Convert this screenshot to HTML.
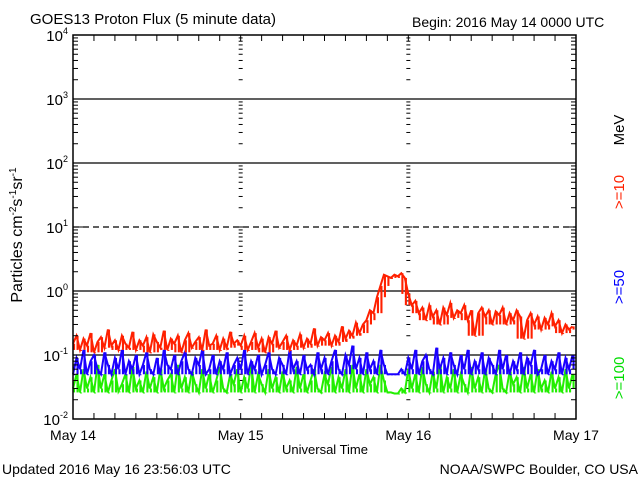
<!DOCTYPE html>
<html><head><meta charset="utf-8"><style>
html,body{margin:0;padding:0;background:#fff;}
svg{display:block;font-family:"Liberation Sans",sans-serif;}
</style></head><body>
<svg id="chart" width="640" height="480" viewBox="0 0 640 480">
<rect x="0" y="0" width="640" height="480" fill="#fff"/>
<text x="30" y="24" font-size="15">GOES13 Proton Flux (5 minute data)</text>
<text x="412" y="27" font-size="14">Begin: 2016 May 14 0000 UTC</text>
<text transform="translate(22,235) rotate(-90)" text-anchor="middle" font-size="16">Particles cm<tspan font-size="10" dy="-6">-2</tspan><tspan dy="6">s</tspan><tspan font-size="10" dy="-6">-1</tspan><tspan dy="6">sr</tspan><tspan font-size="10" dy="-6">-1</tspan></text>
<text transform="translate(624,130) rotate(-90)" text-anchor="middle" font-size="15">MeV</text>
<text transform="translate(624,192) rotate(-90)" text-anchor="middle" font-size="15" fill="#ff2000">&gt;=10</text>
<text transform="translate(624,287) rotate(-90)" text-anchor="middle" font-size="15" fill="#0000ff">&gt;=50</text>
<text transform="translate(624,378) rotate(-90)" text-anchor="middle" font-size="15" fill="#00dd00">&gt;=100</text>
<text x="325" y="454" text-anchor="middle" font-size="13">Universal Time</text>
<text x="2" y="474" font-size="14">Updated 2016 May 16 23:56:03 UTC</text>
<text x="638" y="474" text-anchor="end" font-size="14">NOAA/SWPC Boulder, CO USA</text>
<g id="grid"></g>
<g id="series"></g>
<g id="axes"></g>
</svg>
<script>
const dayLabels = ["May 14","May 15","May 16","May 17"];
const decadeExps = [-2,-1,0,1,2,3,4];
const red = [0.15,0.2,0.12,0.18,0.14,0.22,0.11,0.16,0.19,0.13,0.25,0.14,0.17,0.12,0.2,0.15,0.13,0.23,0.12,0.17,0.14,0.19,0.11,0.21,
0.16,0.13,0.24,0.12,0.18,0.15,0.2,0.11,0.17,0.22,0.13,0.16,0.19,0.12,0.25,0.14,0.15,0.2,0.12,0.18,0.13,0.23,0.15,0.17,
0.14,0.2,0.12,0.16,0.22,0.13,0.18,0.11,0.19,0.15,0.24,0.13,0.16,0.2,0.12,0.17,0.14,0.21,0.13,0.18,0.15,0.26,0.14,0.19,
0.17,0.22,0.14,0.2,0.16,0.28,0.18,0.24,0.2,0.32,0.22,0.3,
0.35,0.5,0.45,0.8,1.2,1.8,1.7,1.6,1.8,1.7,1.9,1.6,
0.9,0.6,0.7,0.45,0.55,0.35,0.6,0.4,0.5,0.3,0.55,0.42,0.65,0.38,0.5,0.45,0.6,0.35,0.5,0.2,0.45,0.55,0.4,0.5,0.3,0.48,0.42,0.55,0.3,0.45,0.35,0.5,0.4,0.18,0.35,0.45,0.3,0.4,0.25,0.38,0.3,0.45,0.28,0.35,0.22,0.3,0.25,0.28];
const blue = [0.05,0.09,0.06,0.12,0.05,0.08,0.1,0.06,0.05,0.11,0.07,0.05,0.09,0.06,0.12,0.05,0.08,0.06,0.1,0.05,0.07,0.11,0.06,0.05,
0.09,0.05,0.12,0.07,0.06,0.1,0.05,0.08,0.11,0.06,0.05,0.09,0.07,0.12,0.05,0.06,0.1,0.05,0.08,0.06,0.11,0.05,0.07,0.09,
0.06,0.12,0.05,0.08,0.06,0.1,0.05,0.07,0.11,0.06,0.05,0.09,0.07,0.05,0.12,0.06,0.08,0.05,0.1,0.06,0.07,0.05,0.11,0.06,
0.09,0.05,0.08,0.12,0.06,0.05,0.1,0.07,0.14,0.06,0.09,0.05,0.11,0.06,0.08,0.05,0.12,0.07,0.05,0.05,0.05,0.05,0.06,0.05,
0.09,0.06,0.12,0.05,0.08,0.1,0.06,0.05,0.13,0.06,0.09,0.05,0.11,0.07,0.05,0.1,0.06,0.12,0.05,0.08,0.06,0.11,0.05,0.09,
0.07,0.05,0.12,0.06,0.1,0.05,0.08,0.06,0.11,0.05,0.09,0.07,0.12,0.05,0.06,0.1,0.05,0.08,0.06,0.11,0.05,0.09,0.06,0.1];
const green = [0.03,0.05,0.026,0.06,0.03,0.045,0.026,0.07,0.03,0.05,0.026,0.04,0.06,0.027,0.035,0.05,0.026,0.065,0.03,0.04,0.026,0.055,0.03,0.045,
0.026,0.06,0.03,0.04,0.05,0.026,0.07,0.03,0.045,0.026,0.055,0.035,0.026,0.06,0.03,0.05,0.026,0.04,0.065,0.03,0.026,0.05,0.035,0.06,
0.026,0.045,0.03,0.07,0.026,0.05,0.035,0.026,0.06,0.03,0.045,0.026,0.055,0.03,0.04,0.026,0.065,0.03,0.05,0.026,0.04,0.06,0.03,0.026,
0.05,0.035,0.065,0.026,0.045,0.03,0.06,0.026,0.07,0.03,0.05,0.026,0.06,0.035,0.045,0.026,0.07,0.04,0.026,0.026,0.025,0.025,0.03,0.026,
0.06,0.03,0.05,0.026,0.065,0.035,0.026,0.055,0.03,0.07,0.026,0.045,0.03,0.06,0.026,0.05,0.035,0.026,0.065,0.03,0.045,0.026,0.06,0.03,
0.026,0.05,0.07,0.03,0.026,0.055,0.035,0.045,0.026,0.065,0.03,0.05,0.026,0.06,0.03,0.04,0.026,0.055,0.03,0.045,0.026,0.06,0.03,0.05];

const X0=73, X1=576, Y0=419, PX_DEC=64, DAYS=3;
const xScale = h => X0 + (h/(DAYS*24))*(X1-X0);
const yScale = v => Y0 - (Math.log10(v)+2)*PX_DEC;
const NS="http://www.w3.org/2000/svg";
function mk(tag, attrs, parent){const e=document.createElementNS(NS,tag);for(const k in attrs)e.setAttribute(k,attrs[k]);parent.appendChild(e);return e;}
const grid=document.getElementById('grid'), series=document.getElementById('series'), axes=document.getElementById('axes');

decadeExps.forEach(ex=>{
  if(ex===-2||ex===4) return;
  const y=yScale(Math.pow(10,ex));
  const l=mk('line',{x1:X0,x2:X1,y1:y,y2:y,stroke:'#000','stroke-width':1.3},grid);
  if(ex===1) l.setAttribute('stroke-dasharray','6,4');
  
  
});
[1,2].forEach(d=>{
  const x=xScale(d*24);
  decadeExps.forEach(ex=>{
    if(ex===4) return;
    for(let m=1;m<=9;m++){
      const y=yScale(m*Math.pow(10,ex));
      if(y<35) continue;
      const w=m===1?8:4;
      const t=mk('line',{x1:x-w/2,x2:x+w/2,y1:y,y2:y,stroke:'#000','stroke-width':1},grid);
      
      
    }
  });
});

function drawSeries(arr,color,name){
  const n=arr.length;
  const g=mk('g',{},series);
  
  
  const dx=(X1-X0)/n;
  arr.forEach((v,i)=>{
    let lo=v;
    for(let k=Math.max(0,i-2);k<=Math.min(n-1,i+2);k++) lo=Math.min(lo,arr[k]);
    const y1=yScale(v), y2=yScale(lo);
    const r=mk('rect',{x:xScale(i*DAYS*24/n),y:y1,width:dx*0.6,height:Math.max(1,y2-y1),fill:color},g);
    
    
  });
  const pts=arr.map((v,i)=>xScale(i*DAYS*24/n).toFixed(1)+','+yScale(v).toFixed(1)).join(' ');
  const p=mk('polyline',{points:pts,fill:'none',stroke:color,'stroke-width':2},g);
  
  
}
drawSeries(green,'#22ee00','series-100mev');
drawSeries(blue,'#1a00ff','series-50mev');
drawSeries(red,'#ff2000','series-10mev');

const fr=mk('rect',{x:X0,y:35,width:X1-X0,height:Y0-35,fill:'none',stroke:'#000','stroke-width':1.5},axes);


decadeExps.forEach(ex=>{
  for(let m=1;m<=9;m++){
    if(ex===4&&m>1) continue;
    const y=yScale(m*Math.pow(10,ex));
    const w=m===1?10:5;
    mk('line',{x1:X0,x2:X0+w,y1:y,y2:y,stroke:'#000','stroke-width':1},axes);
    mk('line',{x1:X1,x2:X1-w,y1:y,y2:y,stroke:'#000','stroke-width':1},axes);
  }
  const t=mk('text',{x:X0-5,y:yScale(Math.pow(10,ex))+6,'text-anchor':'end','font-size':15},axes);
  
  
  t.innerHTML='10<tspan font-size="9" dy="-7">'+ex+'</tspan>';
});
for(let h=0;h<=DAYS*24;h+=3){
  const x=xScale(h);
  mk('line',{x1:x,x2:x,y1:Y0,y2:Y0-6,stroke:'#000','stroke-width':1},axes);
  mk('line',{x1:x,x2:x,y1:35,y2:41,stroke:'#000','stroke-width':1},axes);
}
dayLabels.forEach((lab,i)=>{
  const t=mk('text',{x:xScale(i*24),y:440,'text-anchor':'middle','font-size':14},axes);
  
  
  t.textContent=lab;
});
</script>
</body></html>
